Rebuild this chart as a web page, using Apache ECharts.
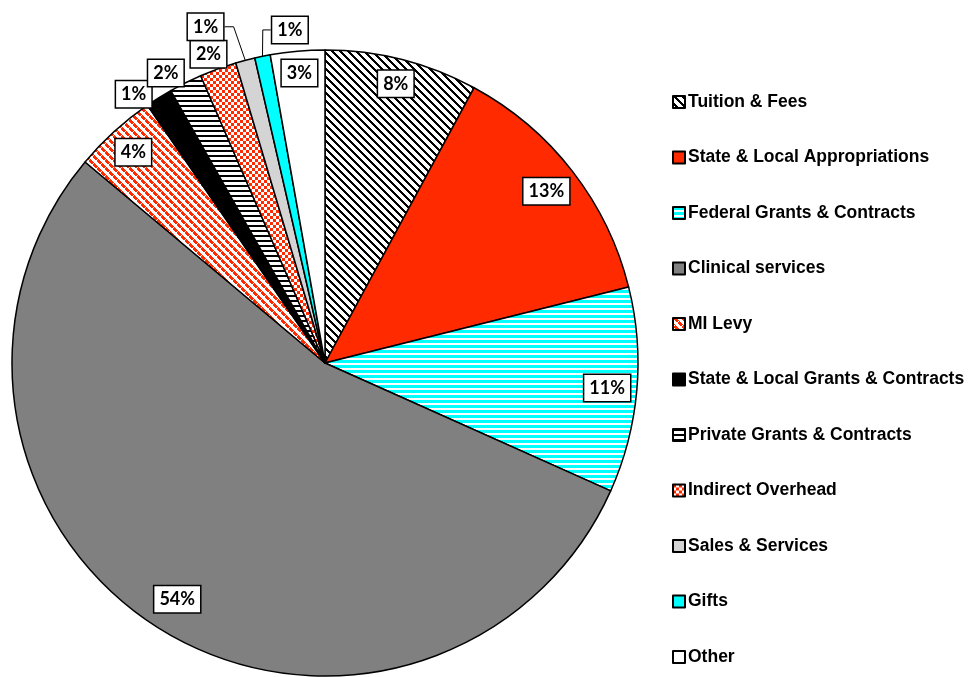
<!DOCTYPE html>
<html>
<head>
<meta charset="utf-8">
<script src="https://cdn.jsdelivr.net/npm/echarts@6/dist/echarts.min.js"></script>
<style>
  html, body { margin: 0; padding: 0; background: #ffffff; }
  #chart { width: 969px; height: 677px; }
</style>
</head>
<body>
<div id="chart"></div>
<script>
// Revenue sources, share of total (%)
const categories = [
  'Tuition & Fees',
  'State & Local Appropriations',
  'Federal Grants & Contracts',
  'Clinical services',
  'MI Levy',
  'State & Local Grants & Contracts',
  'Private Grants & Contracts',
  'Indirect Overhead',
  'Sales & Services',
  'Gifts',
  'Other'
];
const shares = [7.9, 13.2, 10.6, 54.4, 4.3, 1.4, 1.7, 1.9, 1.0, 0.8, 2.8];

// ---- fill patterns -------------------------------------------------------
function tile(w, h, paint) {
  const c = document.createElement('canvas');
  c.width = w; c.height = h;
  const g = c.getContext('2d');
  const img = g.createImageData(w, h);
  for (let y = 0; y < h; y++) {
    for (let x = 0; x < w; x++) {
      const col = paint(x, y);
      const i = (y * w + x) * 4;
      img.data[i] = col[0]; img.data[i + 1] = col[1]; img.data[i + 2] = col[2]; img.data[i + 3] = 255;
    }
  }
  g.putImageData(img, 0, 0);
  return { image: c, repeat: 'repeat' };
}
const WHITE = [255, 255, 255], BLACK = [0, 0, 0], RED = [255, 42, 0], CYAN = [0, 255, 255];
const mod = (a, n) => ((a % n) + n) % n;

const fills = [
  // downward diagonal black stripes
  tile(8, 8, (x, y) => mod(x - y, 8) < 3 ? BLACK : WHITE),
  '#ff2a00',
  // cyan horizontal stripes
  tile(4, 5, (x, y) => y < 3 ? CYAN : WHITE),
  '#808080',
  // red broken diagonal
  tile(8, 8, (x, y) => mod(x - y, 8) < 4 && mod(x + y, 8) !== 0 ? RED : WHITE),
  '#000000',
  // black horizontal stripes
  tile(4, 5, (x, y) => y < 2 ? BLACK : WHITE),
  // small red checker
  tile(6, 6, (x, y) => (Math.floor(x / 3) + Math.floor(y / 3)) % 2 ? WHITE : RED),
  '#d4d4d4',
  '#00ffff',
  '#ffffff'
];

// ---- label placement (radius as a fraction of the pie radius, turn in degrees)
const labelPlacement = [
  { r: 0.92, turn: 0 },
  { r: 0.895, turn: 0 },
  { r: 0.905, turn: 0 },
  { r: 0.89, turn: 0 },
  { r: 0.91, turn: 0 },
  { r: 1.054, turn: -3.4 },
  { r: 1.057, turn: -2.3 },
  { r: 1.054, turn: -0.7 },
  { r: 1.14, turn: -4.8, line: true },
  { r: 1.07, turn: 5.5, line: true },
  { r: 0.93, turn: 0 }
];

const CX = 325, CY = 363, R = 313;
const total = shares.reduce((a, b) => a + b, 0);
const midAngles = [];
{
  let acc = 0;
  shares.forEach(v => { midAngles.push((acc + v / 2) / total * 360); acc += v; });
}
function polar(r, deg) {
  const a = deg * Math.PI / 180;
  return [CX + r * Math.sin(a), CY - r * Math.cos(a)];
}

const chart = echarts.init(document.getElementById('chart'), null, { renderer: 'canvas' });

chart.setOption({
  backgroundColor: '#ffffff',
  animation: false,
  legend: {
    orient: 'vertical',
    left: 672,
    top: 92,
    padding: 0,
    itemWidth: 12,
    itemHeight: 12,
    itemGap: 35.5,
    icon: 'rect',
    selectedMode: false,
    data: categories,
    textStyle: {
      fontFamily: "'Liberation Sans', Arial, sans-serif",
      fontWeight: 'bold',
      fontSize: 17.5,
      lineHeight: 20,
      color: '#000000',
      padding: [0, 0, 0, -2]
    }
  },
  series: [{
    type: 'pie',
    center: [CX, CY],
    radius: R,
    startAngle: 90,
    clockwise: true,
    avoidLabelOverlap: false,
    silent: true,
    itemStyle: { borderColor: '#000000', borderWidth: 1.5 },
    label: {
      show: true,
      position: 'outside',
      formatter: p => Math.round(p.value / total * 100) + '%',
      fontFamily: 'Lato, sans-serif',
      fontWeight: 'bold',
      fontSize: 18,
      lineHeight: 18,
      color: '#000000',
      backgroundColor: '#ffffff',
      borderColor: '#000000',
      borderWidth: 1.5,
      padding: [4, 5, 4, 5]
    },
    labelLine: { show: false, lineStyle: { color: '#000000', width: 1 } },
    labelLayout: function (params) {
      const i = params.dataIndex;
      const pl = labelPlacement[i];
      const [lx, ly] = polar(pl.r * R, midAngles[i] + pl.turn);
      const out = { x: lx, y: ly, align: 'center', verticalAlign: 'middle' };
      if (pl.line) {
        const rim = polar(R, midAngles[i]);
        const w = params.labelRect.width;
        let edge, elbow;
        if (lx < rim[0]) { edge = lx + w / 2; elbow = edge + 9; }
        else { edge = lx - w / 2; elbow = edge - 8; }
        out.labelLinePoints = [rim, [elbow, ly], [edge, ly]];
      }
      return out;
    },
    data: categories.map((name, i) => ({
      name,
      value: shares[i],
      itemStyle: { color: fills[i] },
      labelLine: { show: !!labelPlacement[i].line }
    }))
  }]
});
</script>
</body>
</html>
